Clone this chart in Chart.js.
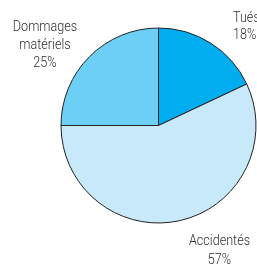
<!DOCTYPE html>
<html><head><meta charset="utf-8">
<script src="https://cdn.jsdelivr.net/npm/chart.js@4/dist/chart.umd.min.js"></script>
<style>html,body{margin:0;padding:0;background:#fff}#w{width:257px;height:264px}</style>
</head><body><div id="w"><canvas id="c"></canvas></div>
<script>
const categories = ["Tués", "Accidentés", "Dommages matériels"];
const values = [18, 57, 25];
const labelLines = [["Tués", "18%"], ["Accidentés", "57%"], ["Dommages", "matériels", "25%"]];
const colors = ["#00adee", "#c7e9f9", "#6dcff6"];

// label placement (style): offsets from pie center to first baseline, line height, alignment
const labelPos = [
  {dx: 74.5, dy: -104, lh: 17.5, align: 'left'},
  {dx: 61, dy: 119.5, lh: 19, align: 'center'},
  {dx: -113.5, dy: -94.5, lh: 18.2, align: 'center'}
];

const labelPlugin = {
  id: 'labels',
  afterDraw(chart) {
    const ctx = chart.ctx;
    const arc = chart.getDatasetMeta(0).data[0];
    const cx = arc.x, cy = arc.y;
    const sx = 0.84;
    ctx.save();
    ctx.font = '300 15px Roboto, "Open Sans", sans-serif';
    ctx.fillStyle = '#2e2e2e';
    ctx.textBaseline = 'alphabetic';
    ctx.scale(sx, 1);
    labelLines.forEach((lines, i) => {
      const p = labelPos[i];
      ctx.textAlign = p.align;
      lines.forEach((t, j) => ctx.fillText(t, (cx + p.dx) / sx, cy + p.dy + j * p.lh));
    });
    ctx.restore();
  }
};

new Chart(document.getElementById('c'), {
  type: 'pie',
  data: {
    labels: categories,
    datasets: [{ data: values, backgroundColor: colors, borderColor: '#222', borderWidth: 1 }]
  },
  options: {
    responsive: true,
    maintainAspectRatio: false,
    animation: false,
    layout: { padding: { left: 61, right: 1, top: 28, bottom: 41 } },
    radius: 97.5,
    plugins: { legend: { display: false }, tooltip: { enabled: false } }
  },
  plugins: [labelPlugin]
});
</script></body></html>
